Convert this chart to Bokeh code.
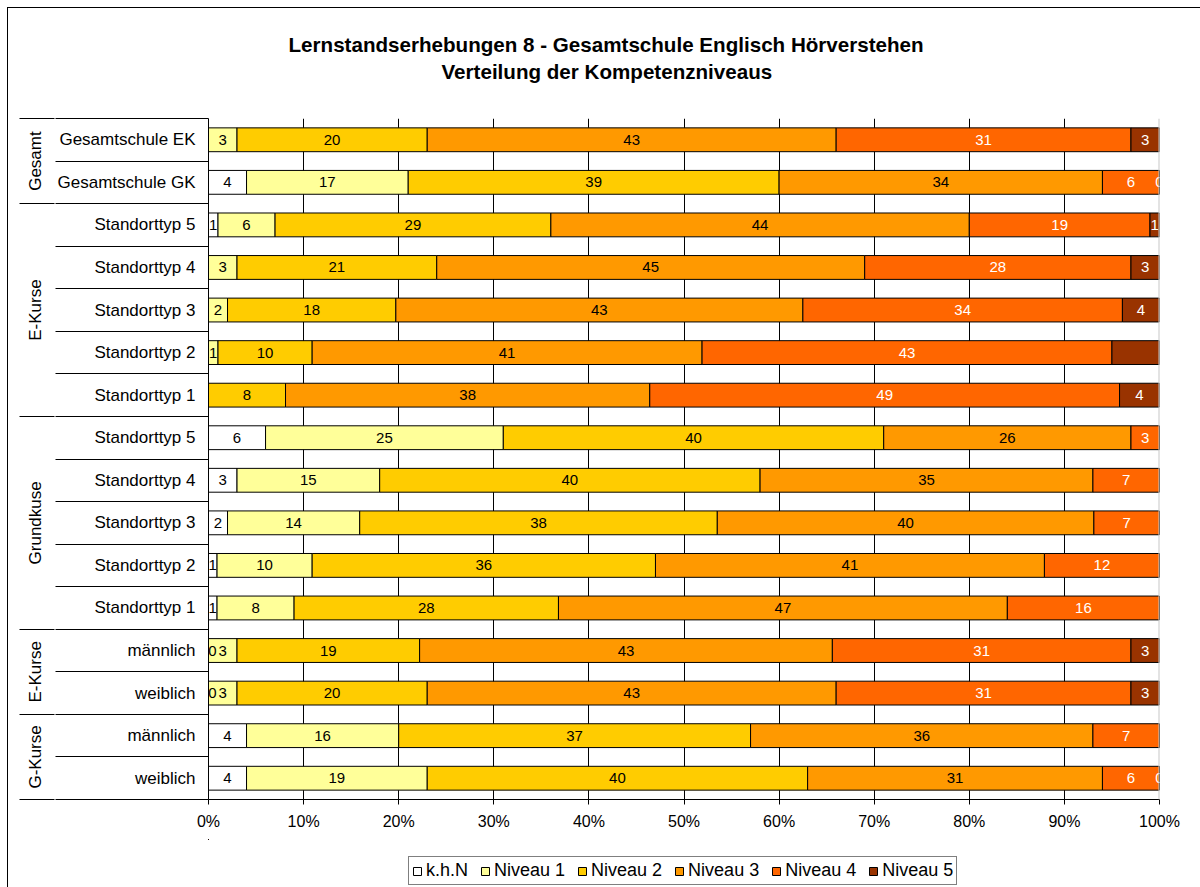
from bokeh.plotting import figure
from bokeh.layouts import column
from bokeh.models import (ColumnDataSource, Range1d, FixedTicker, LinearAxis, LabelSet,
                          Legend, LegendItem, PrintfTickFormatter, Span, Title)
from bokeh.core.properties import value
from bokeh.embed import file_html
from bokeh.resources import INLINE

FONT = "Liberation Sans"

title_line1 = "Lernstandserhebungen 8 - Gesamtschule Englisch Hörverstehen"
title_line2 = "Verteilung der Kompetenzniveaus"

categories = ["Gesamtschule EK", "Gesamtschule GK",
              "Standorttyp 5", "Standorttyp 4", "Standorttyp 3", "Standorttyp 2", "Standorttyp 1",
              "Standorttyp 5", "Standorttyp 4", "Standorttyp 3", "Standorttyp 2", "Standorttyp 1",
              "männlich", "weiblich", "männlich", "weiblich"]
groups = ["Gesamt", "Gesamt",
          "E-Kurse", "E-Kurse", "E-Kurse", "E-Kurse", "E-Kurse",
          "Grundkuse", "Grundkuse", "Grundkuse", "Grundkuse", "Grundkuse",
          "E-Kurse", "E-Kurse", "G-Kurse", "G-Kurse"]

series_names = ["k.h.N", "Niveau 1", "Niveau 2", "Niveau 3", "Niveau 4", "Niveau 5"]
khn      = [None, 4, 1, None, None, None, None, 6, 3, 2, 0.9, 0.9, 0, 0, 4, 4]
niveau1  = [3, 17, 6, 3, 2, 1, None, 25, 15, 13.9, 10.0, 8.1, 3.0, 3, 16, 19]
niveau2  = [20, 39, 29, 21, 17.7, 9.9, 8.1, 40, 40, 37.6, 36.1, 27.8, 19.2, 20, 37, 40]
niveau3  = [43, 34, 44, 45, 42.8, 41.0, 38.3, 26, 35, 39.6, 40.9, 47.2, 43.4, 43, 36, 31]
niveau4  = [31, 6, 19, 28, 33.6, 43.1, 49.4, 3, 7, 6.9, 12.1, 16.0, 31.4, 31, 7, 6]
niveau5  = [3, 0, 1, 3, 3.9, 5.0, 4.2, None, None, None, None, None, 3.0, 3, None, 0]
hidden_labels = [(5, "Niveau 5")]  # value present but no label in the original

colors = ["#FFFFFF", "#FFFF99", "#FFCC00", "#FF9900", "#FF6600", "#993300"]
label_dark = [True, True, True, True, False, False]
x_ticks = list(range(0, 101, 10))

series = [khn, niveau1, niveau2, niveau3, niveau4, niveau5]
n = len(categories)
rows = list(range(n))
keys = ["s%d" % j for j in range(len(series))]

data = {"y": rows}
for k, vals in zip(keys, series):
    data[k] = [0.0 if v is None else float(v) for v in vals]
source = ColumnDataSource(data)

p = figure(width=1192, height=831, x_range=Range1d(0, 100), y_range=Range1d(n - 0.5, -0.5),
           output_backend="svg", toolbar_location=None,
           min_border_left=200, min_border_right=41, min_border_top=110, min_border_bottom=40)
p.outline_line_color = None
p.background_fill_color = "white"

renderers = p.hbar_stack(keys, y="y", height=0.56, fill_color=colors, line_color="black",
                         line_width=1, source=source)

# value labels
dark = dict(x=[], y=[], t=[])
light = dict(x=[], y=[], t=[])
edge = dict(x=[], y=[], t=[])   # zero-width segments at the left edge
for i in rows:
    left = 0.0
    for j, vals in enumerate(series):
        v = vals[i]
        w = 0.0 if v is None else float(v)
        if v is not None and (i, series_names[j]) not in hidden_labels:
            if w == 0 and left == 0:
                tgt = edge
            else:
                tgt = dark if label_dark[j] else light
            tgt["x"].append(left + w / 2.0)
            tgt["y"].append(i)
            tgt["t"].append("%d" % round(w))
        left += w
for d, col, dx in ((dark, "black", 0), (light, "white", 0), (edge, "black", 4)):
    ls = LabelSet(x="x", y="y", text="t", source=ColumnDataSource(d), text_align="center",
                  text_baseline="middle", text_color=col, text_font=value(FONT),
                  text_font_size="15px", x_offset=dx)
    p.add_layout(ls)

# x axis
xax = p.xaxis[0]
xax.ticker = FixedTicker(ticks=x_ticks)
xax.formatter = PrintfTickFormatter(format="%d%%")
xax.major_tick_out = 5
xax.major_tick_in = 0
xax.minor_tick_line_color = None
xax.axis_line_color = "black"
xax.major_tick_line_color = "black"
xax.major_label_standoff = 8
xax.major_label_text_font = FONT
xax.major_label_text_font_size = "16px"
xax.major_label_text_color = "black"

p.xgrid.ticker = FixedTicker(ticks=x_ticks[:-1])
p.xgrid.grid_line_color = "black"
p.ygrid.visible = False
p.add_layout(Span(location=100, dimension="height", line_color="#c8c8c8", line_width=2))

# category axis (left)
yax = p.yaxis[0]
yax.ticker = FixedTicker(ticks=rows, minor_ticks=[i - 0.5 for i in range(n + 1)])
yax.major_label_overrides = {i: c for i, c in enumerate(categories)}
yax.major_tick_out = 0
yax.major_tick_in = 0
yax.minor_tick_out = 153
yax.minor_tick_in = 0
yax.minor_tick_line_color = "black"
yax.axis_line_color = "black"
yax.major_label_standoff = 13 - 153
yax.major_label_text_font = FONT
yax.major_label_text_font_size = "17px"
yax.major_label_text_color = "black"

# group axis (outer left)
centers, bounds, names = [], [-0.5], []
start = 0
for i in range(1, n + 1):
    if i == n or groups[i] != groups[start]:
        centers.append((start + i - 1) / 2.0)
        names.append(groups[start])
        bounds.append(i - 0.5)
        start = i
gax = LinearAxis(ticker=FixedTicker(ticks=centers, minor_ticks=bounds),
                 major_label_overrides={c: nm for c, nm in zip(centers, names)},
                 major_label_orientation="vertical",
                 major_tick_out=0, major_tick_in=0, minor_tick_out=35, minor_tick_in=0,
                 minor_tick_line_color="black", axis_line_color=None,
                 major_label_standoff=-25, major_label_text_font=FONT,
                 major_label_text_font_size="17px", major_label_text_color="black")
p.add_layout(gax, "left")

# blank gap between the plot area and the title lines
p.add_layout(Title(text=" ", text_font=FONT, text_font_size="10px", standoff=22), "above")
# titles (line 2 is nearer to the plot)
p.add_layout(Title(text=title_line2, align="left", offset=233,
                   text_font=FONT, text_font_size="20.6px", text_font_style="bold",
                   text_color="black", standoff=2), "above")
p.title.text = title_line1
p.title.align = "left"
p.title.offset = 80
p.title.text_font = FONT
p.title.text_font_size = "20.6px"
p.title.text_font_style = "bold"
p.title.text_color = "black"
p.title.standoff = 2

# legend strip (separate small figure below the chart; its bars lie far outside its view)
p2 = figure(width=1192, height=48, output_backend="svg", toolbar_location=None,
            x_range=Range1d(1000, 1100), y_range=Range1d(-20, -19),
            min_border_left=0, min_border_right=0, min_border_top=0, min_border_bottom=0)
p2.axis.visible = False
p2.grid.visible = False
p2.outline_line_color = None
swatches = p2.hbar_stack(keys, y="y", height=0.56, fill_color=colors, line_color="black",
                         line_width=1, source=source)
legend = Legend(items=[LegendItem(label=nm, renderers=[r]) for nm, r in zip(series_names, swatches)],
                orientation="horizontal", location=(200, 2), glyph_width=10, glyph_height=10,
                label_standoff=4, spacing=12, padding=3, margin=0, border_line_color="black",
                label_text_font=FONT, label_text_font_size="18px", label_height=20,
                label_text_color="black")
p2.add_layout(legend)

layout = column(p, p2, spacing=0,
                styles={"margin-left": "7px", "margin-top": "7px",
                        "border-left": "1px solid black", "border-top": "1px solid black"})

open("out.html", "w").write(file_html(layout, INLINE))
